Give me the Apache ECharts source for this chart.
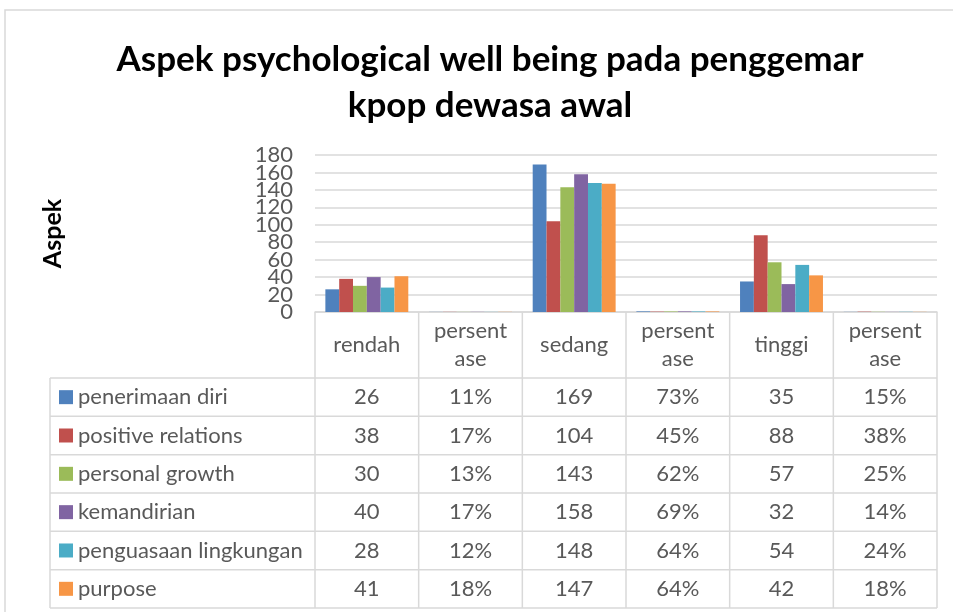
<!DOCTYPE html>
<html>
<head>
<meta charset="utf-8">
<script src="https://cdn.jsdelivr.net/npm/echarts@6/dist/echarts.min.js"></script>
<style>
  html, body { margin: 0; padding: 0; background: #fff; }
  #chart { width: 953px; height: 612px; }
</style>
</head>
<body>
<div id="chart"></div>
<script>
const categories = ['rendah', 'persentase', 'sedang', 'persentase', 'tinggi', 'persentase']
const seriesNames = ['penerimaan diri', 'positive relations', 'personal growth', 'kemandirian', 'penguasaan lingkungan', 'purpose']
// persentase columns hold fractions, so their bars are almost flat (as in the original sheet)
const penerimaanDiri = [26, 0.11, 169, 0.73, 35, 0.15]
const positiveRelations = [38, 0.17, 104, 0.45, 88, 0.38]
const personalGrowth = [30, 0.13, 143, 0.62, 57, 0.25]
const kemandirian = [40, 0.17, 158, 0.69, 32, 0.14]
const penguasaanLingkungan = [28, 0.12, 148, 0.64, 54, 0.24]
const purpose = [41, 0.18, 147, 0.64, 42, 0.18]
const seriesData = [penerimaanDiri, positiveRelations, personalGrowth, kemandirian, penguasaanLingkungan, purpose]
const yTicks = [0, 20, 40, 60, 80, 100, 120, 140, 160, 180]
const colors = ['#4f81bd', '#c0504d', '#9bbb59', '#8064a2', '#4bacc6', '#f79646']

const font = 'Lato, "Open Sans", sans-serif'
const lineColor = '#d9d9d9'
const textColor = '#595959'

const chart = echarts.init(document.getElementById('chart'))

function cellText(v) {
  return v < 1 ? Math.round(v * 100) + '%' : String(v)
}

chart.setOption({
  animation: false,
  color: colors,
  title: {
    text: 'Aspek psychological well being pada penggemar\nkpop dewasa awal',
    left: 485,
    top: 32,
    textAlign: 'center',
    textStyle: { fontFamily: font, fontWeight: 'bold', fontSize: 35, lineHeight: 46, color: '#000' }
  },
  grid: { left: 315, right: 16, top: 155, bottom: 300 },
  xAxis: {
    type: 'category',
    data: categories,
    axisLine: { lineStyle: { color: lineColor, width: 1.5 } },
    axisTick: { show: false },
    axisLabel: {
      interval: 0,
      margin: 33,
      verticalAlign: 'middle',
      fontFamily: font,
      fontSize: 22,
      lineHeight: 28,
      color: textColor,
      formatter: (v) => v.length > 8 ? v.slice(0, 7) + '\n' + v.slice(7) : v
    }
  },
  yAxis: {
    type: 'value',
    min: yTicks[0],
    max: yTicks[yTicks.length - 1],
    interval: 20,
    name: 'Aspek',
    nameLocation: 'middle',
    nameGap: 250,
    nameRotate: 90,
    nameTextStyle: { fontFamily: font, fontWeight: 'bold', fontSize: 25, color: '#000' },
    axisLine: { show: false },
    axisTick: { show: false },
    // the tick labels are packed tighter than their height, so they are drawn below
    axisLabel: { show: false },
    splitLine: { lineStyle: { color: lineColor, width: 1.5 } }
  },
  series: seriesNames.map((name, i) => ({
    name,
    type: 'bar',
    data: seriesData[i],
    barGap: '0%',
    barCategoryGap: '20%'
  }))
})

// y tick labels and the data table under the plot, aligned with the axes
function drawExtras() {
  const colW = chart.convertToPixel({ xAxisIndex: 0 }, 1) - chart.convertToPixel({ xAxisIndex: 0 }, 0)
  const centers = categories.map((c, i) => chart.convertToPixel({ xAxisIndex: 0 }, i))
  const xLeft = centers[0] - colW / 2
  const xRight = centers[centers.length - 1] + colW / 2
  const axisY = chart.convertToPixel({ yAxisIndex: 0 }, 0)
  const headBottom = 378
  const rowH = 38.33
  const legendLeft = 50
  const tableBottom = headBottom + rowH * seriesNames.length
  const line = (x1, y1, x2, y2) => ({
    type: 'line',
    shape: { x1, y1, x2, y2 },
    style: { stroke: lineColor, lineWidth: 1.5 },
    silent: true
  })
  const els = []
  // outer chart frame
  els.push({ type: 'rect', shape: { x: 5, y: 10, width: 1000, height: 700 }, style: { fill: null, stroke: lineColor, lineWidth: 1.5 }, silent: true })
  yTicks.forEach((t) => {
    els.push({
      type: 'text', x: xLeft - 22, y: chart.convertToPixel({ yAxisIndex: 0 }, t),
      style: { text: String(t), font: '22px ' + font, fill: textColor, textAlign: 'right', textVerticalAlign: 'middle' },
      silent: true
    })
  })
  for (let i = 0; i <= categories.length; i++) {
    const x = xLeft + i * colW
    els.push(line(x, axisY, x, tableBottom))
  }
  els.push(line(legendLeft, headBottom, legendLeft, tableBottom))
  for (let r = 0; r <= seriesNames.length; r++) {
    const y = headBottom + r * rowH
    els.push(line(legendLeft, y, xRight, y))
  }
  seriesNames.forEach((name, r) => {
    const cy = headBottom + r * rowH + rowH / 2
    els.push({ type: 'rect', shape: { x: 59, y: cy - 7, width: 14, height: 14 }, style: { fill: colors[r] }, silent: true })
    els.push({
      type: 'text', x: 78, y: cy,
      style: { text: name, font: '22px ' + font, fill: textColor, textAlign: 'left', textVerticalAlign: 'middle' },
      silent: true
    })
    seriesData[r].forEach((v, c) => {
      els.push({
        type: 'text', x: centers[c], y: cy,
        style: { text: cellText(v), font: '22px ' + font, fill: textColor, textAlign: 'center', textVerticalAlign: 'middle' },
        silent: true
      })
    })
  })
  chart.setOption({ graphic: els })
}

drawExtras()
</script>
</body>
</html>
